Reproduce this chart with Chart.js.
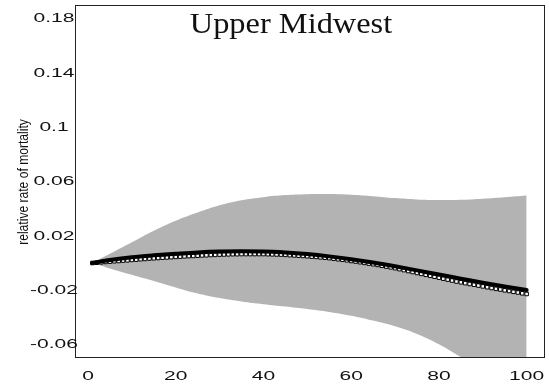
<!DOCTYPE html>
<html>
<head>
<meta charset="utf-8">
<script src="https://cdn.jsdelivr.net/npm/chart.js@4"></script>
<style>
  body { margin: 0; background: #fff; }
  #wrap { width: 549px; height: 389px; }
</style>
</head>
<body>
<div id="wrap"><canvas id="chart" width="549" height="389"></canvas></div>
<script>
const title = "Upper Midwest";
const yTitle = "relative rate of mortality";
const xTicks = [0, 20, 40, 60, 80, 100];
const xTickLabels = ["0", "20", "40", "60", "80", "100"];
const yTicks = [0.18, 0.14, 0.1, 0.06, 0.02, -0.02, -0.06];
const yTickLabels = ["0.18", "0.14", "0.1", "0.06", "0.02", "-0.02", "-0.06"];

// band + fitted curve, read every 5 units
const bandAge = [1, 5, 10, 15, 20, 25, 30, 35, 40, 45, 50, 55, 60, 65, 70, 75, 80, 85, 90, 95, 100];
const upper = [0, 0.0068, 0.0153, 0.0238, 0.0312, 0.0372, 0.0425, 0.0462, 0.0485, 0.0500, 0.0507,
  0.0508, 0.0503, 0.0492, 0.0478, 0.0468, 0.0464, 0.0466, 0.0474, 0.0485, 0.0497];
const lower = [0, -0.0040, -0.0087, -0.0133, -0.0180, -0.0225, -0.0258, -0.0283, -0.0303, -0.0320, -0.0338,
  -0.0360, -0.0388, -0.0424, -0.0466, -0.0522, -0.0598, -0.0692, -0.0792, -0.0892, -0.0992];
const fitted = [0, 0.0022, 0.0043, 0.0057, 0.0068, 0.0078, 0.0084, 0.0086, 0.0085, 0.0078, 0.0066,
  0.0049, 0.0028, 0.0004, -0.0024, -0.0054, -0.0085, -0.0115, -0.0145, -0.0172, -0.0199];

// open-square series, one value per age 1..100
const ages = Array.from({ length: 100 }, (_, i) => i + 1);
const observed = [
  0.0000, 0.0002, 0.0005, 0.0008, 0.0010, 0.0013, 0.0015, 0.0018, 0.0020, 0.0023,
  0.0025, 0.0028, 0.0030, 0.0033, 0.0035, 0.0037, 0.0039, 0.0041, 0.0043, 0.0045,
  0.0047, 0.0049, 0.0051, 0.0052, 0.0054, 0.0056, 0.0057, 0.0059, 0.0060, 0.0062,
  0.0063, 0.0064, 0.0065, 0.0065, 0.0066, 0.0066, 0.0066, 0.0066, 0.0066, 0.0066,
  0.0065, 0.0064, 0.0063, 0.0062, 0.0060, 0.0058, 0.0056, 0.0054, 0.0052, 0.0050,
  0.0047, 0.0045, 0.0042, 0.0039, 0.0036, 0.0032, 0.0028, 0.0024, 0.0020, 0.0015,
  0.0011, 0.0006, 0.0001, -0.0004, -0.0009, -0.0014, -0.0020, -0.0026, -0.0032, -0.0038,
  -0.0045, -0.0052, -0.0059, -0.0066, -0.0073, -0.0080, -0.0087, -0.0094, -0.0101, -0.0108,
  -0.0115, -0.0122, -0.0129, -0.0136, -0.0142, -0.0148, -0.0154, -0.0160, -0.0166, -0.0172,
  -0.0178, -0.0184, -0.0190, -0.0195, -0.0201, -0.0206, -0.0212, -0.0217, -0.0223, -0.0228
];

const pts = (xs, ys) => xs.map((x, i) => ({ x: x, y: ys[i] }));

// stretched text, the reference labels are very wide
function wideText(ctx, text, cx, cy, sx) {
  ctx.save();
  ctx.translate(cx, cy);
  ctx.scale(sx, 1);
  ctx.fillText(text, 0, 0);
  ctx.restore();
}

const textPlugin = {
  id: "texts",
  afterDraw(chart) {
    const ctx = chart.ctx;
    const a = chart.chartArea;
    const sx = chart.scales.x, sy = chart.scales.y;
    ctx.save();
    // frame
    ctx.strokeStyle = "#222";
    ctx.lineWidth = 1;
    ctx.strokeRect(a.left + 0.5, a.top + 0.5, a.right - a.left, a.bottom - a.top);

    ctx.fillStyle = "#111";
    ctx.font = "12px 'Liberation Sans'";
    ctx.textAlign = "center";
    ctx.textBaseline = "middle";
    sy.ticks.forEach((t, i) => {
      wideText(ctx, yTickLabels[i], 54, sy.getPixelForValue(t.value) + 0.5, 1.75);
    });
    sx.ticks.forEach((t, i) => {
      wideText(ctx, xTickLabels[i], sx.getPixelForValue(t.value), 377, 1.75);
    });

    // title inside plot
    ctx.font = "30px 'Liberation Serif'";
    ctx.textBaseline = "alphabetic";
    wideText(ctx, title, 291, 33, 1.08);

    // y axis title
    ctx.save();
    ctx.translate(28, 182);
    ctx.rotate(-Math.PI / 2);
    ctx.scale(0.78, 1);
    ctx.font = "15.5px 'Liberation Sans'";
    ctx.textAlign = "center";
    ctx.fillText(yTitle, 0, 0);
    ctx.restore();
    ctx.restore();
  }
};

new Chart(document.getElementById("chart"), {
  type: "line",
  data: {
    datasets: [
      {
        data: pts(bandAge, fitted),
        borderColor: "#000",
        borderWidth: 4,
        borderCapStyle: "round",
        cubicInterpolationMode: "monotone",
        pointRadius: 0,
        fill: false,
      },
      {
        data: pts(ages, observed),
        showLine: false,
        pointStyle: "rect",
        pointRadius: 2.5,
        pointBorderWidth: 1,
        pointBorderColor: "#000",
        pointBackgroundColor: "#fff",
        fill: false,
      },
      {
        data: pts(bandAge, upper),
        borderWidth: 0,
        borderColor: "rgba(0,0,0,0)",
        backgroundColor: "#b3b3b3",
        tension: 0.4,
        pointRadius: 0,
        fill: "+1",
        clip: 0,
      },
      {
        data: pts(bandAge, lower),
        borderWidth: 0,
        borderColor: "rgba(0,0,0,0)",
        tension: 0.4,
        pointRadius: 0,
        fill: false,
        clip: 0,
      },
    ],
  },
  options: {
    responsive: false,
    animation: false,
    layout: { padding: { top: 5, right: 5, left: 0, bottom: 0 } },
    plugins: { legend: { display: false }, tooltip: { enabled: false } },
    scales: {
      x: {
        type: "linear",
        min: -2.96,
        max: 103.96,
        afterBuildTicks: (s) => { s.ticks = xTicks.map((v) => ({ value: v })); },
        afterFit: (s) => { s.height = 32; },
        ticks: { display: false },
        grid: { display: false },
        border: { display: false },
      },
      y: {
        min: -0.0692,
        max: 0.19,
        afterBuildTicks: (s) => { s.ticks = yTicks.map((v) => ({ value: v })); },
        afterFit: (s) => { s.width = 75; },
        ticks: { display: false },
        grid: { display: false },
        border: { display: false },
      },
    },
  },
  plugins: [textPlugin],
});
</script>
</body>
</html>
